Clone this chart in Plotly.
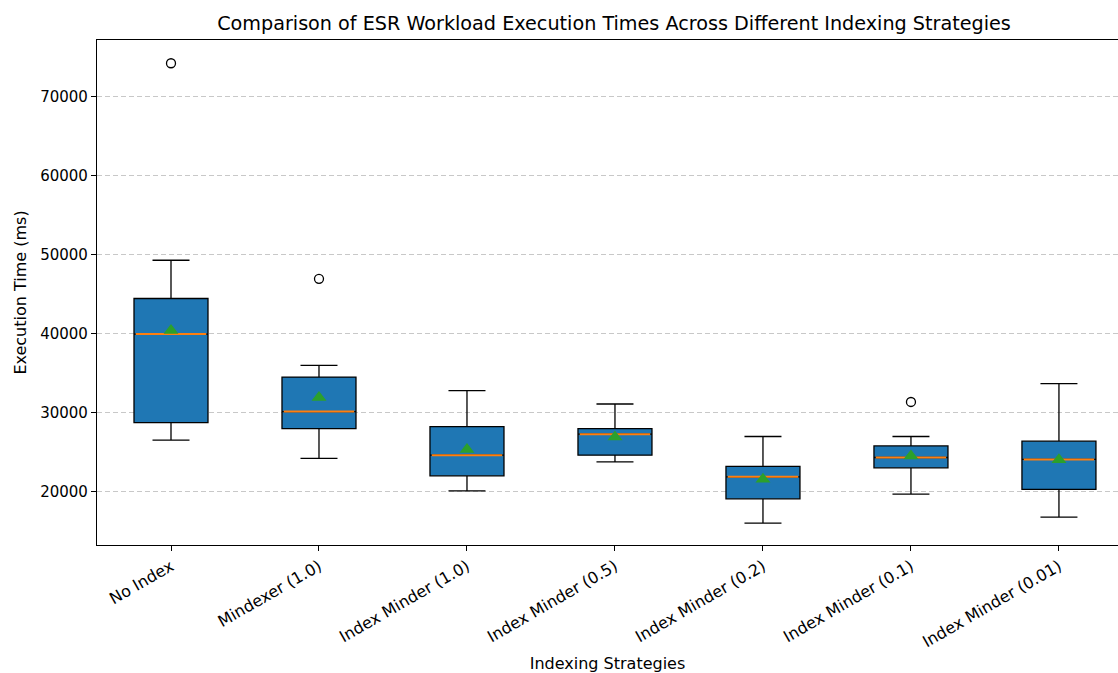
import plotly.graph_objects as go

categories = ["No Index", "Mindexer (1.0)", "Index Minder (1.0)", "Index Minder (0.5)",
              "Index Minder (0.2)", "Index Minder (0.1)", "Index Minder (0.01)"]
lower_whisker = [26528, 24217, 20126, 23788, 16048, 19710, 16806]
q1 = [28763, 28005, 22020, 24634, 19116, 23030, 20303]
median = [39950, 30152, 24634, 27285, 21894, 24343, 24091]
q3 = [44457, 34520, 28258, 28005, 23207, 25808, 26402]
upper_whisker = [49293, 35997, 32803, 31111, 26995, 26995, 33687]
means = [40417, 31919, 25353, 26944, 21604, 24545, 24040]
outlier_cat = [0, 1, 5]
outlier_val = [74217, 46944, 31364]
y_ticks = [20000, 30000, 40000, 50000, 60000, 70000]

pos = list(range(len(categories)))
BOX_W = 0.5
W, H = 1118, 673

fig = go.Figure()
fig.add_trace(go.Box(
    x=pos, q1=q1, median=median, q3=q3,
    lowerfence=lower_whisker, upperfence=upper_whisker,
    width=BOX_W, whiskerwidth=0.5,
    fillcolor="#1f77b4", line=dict(color="black", width=1.3),
    boxpoints=False, showlegend=False, hoverinfo="skip",
))

# median lines
mx, my = [], []
for p, m in zip(pos, median):
    mx += [p - BOX_W / 2 + 0.012, p + BOX_W / 2 - 0.012, None]
    my += [m, m, None]
fig.add_trace(go.Scatter(x=mx, y=my, mode="lines",
                         line=dict(color="#ff7f0e", width=2),
                         showlegend=False, hoverinfo="skip"))

# means
fig.add_trace(go.Scatter(x=pos, y=means, mode="markers",
                         marker=dict(symbol="triangle-up", size=13, color="#2ca02c"),
                         showlegend=False))

# outliers
fig.add_trace(go.Scatter(x=outlier_cat, y=outlier_val, mode="markers",
                         marker=dict(symbol="circle-open", size=9, color="black",
                                     line=dict(width=1.3)),
                         showlegend=False))

fig.update_layout(
    width=W, height=H,
    margin=dict(l=97, r=0, t=40, b=127),
    paper_bgcolor="white", plot_bgcolor="white",
    font=dict(family="DejaVu Sans", size=15, color="black"),
    title=dict(text="Comparison of ESR Workload Execution Times Across Different Indexing Strategies",
               x=614 / W, xref="container", xanchor="center", y=1 - 23 / H, yanchor="middle",
               font=dict(size=19.2, family="DejaVu Sans")),
)
fig.update_xaxes(
    range=[-0.5, 6.399], tickmode="array", tickvals=pos, ticktext=categories,
    tickangle=-30, ticks="outside", ticklen=5, tickcolor="black",
    showline=True, linecolor="black", linewidth=1.2, mirror=True,
    showgrid=False, zeroline=False,
    title=dict(text="Indexing Strategies", font=dict(size=16), standoff=10),
    tickfont=dict(size=16),
)
fig.update_yaxes(
    range=[13270, 77160], tickmode="array", tickvals=y_ticks, tickformat="d",
    ticks="outside", ticklen=5, tickcolor="black",
    showline=True, linecolor="black", linewidth=1.2, mirror=False,
    showgrid=True, gridcolor="#c8c8c8", griddash="5px,3px", gridwidth=1,
    zeroline=False,
    title=dict(text="Execution Time (ms)", font=dict(size=16), standoff=9),
    tickfont=dict(size=15),
)

fig.write_html(
    "out.html",
    config={"displayModeBar": False},
    post_script=("document.body.style.margin='0';document.body.style.padding='0';"
                 "Plotly.relayout('{plot_id}', {width: %d, height: %d});" % (W, H)),
)
